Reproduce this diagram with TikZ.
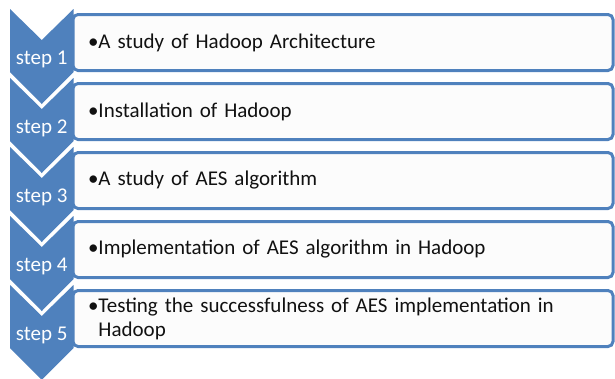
\documentclass[tikz,border=0pt]{standalone}
\usepackage{fontspec}
\setmainfont{Carlito}
\usetikzlibrary{positioning}
\definecolor{StepBlue}{HTML}{4F81BD}
\definecolor{BoxFill}{HTML}{FCFCFC}
\definecolor{Ink}{HTML}{111111}
\tikzset{
 stepbox/.style={draw=StepBlue, line width=3pt, rounded corners=5pt, fill=BoxFill, outer sep=0pt, minimum width=540pt, minimum height=56pt, text width=510pt, inner xsep=15pt, align=left, font=\fontsize{21pt}{24pt}\selectfont, text=Ink},
 steplabel/.style={anchor=base, inner sep=0pt, text=white, font=\fontsize{21pt}{24pt}\selectfont},
 chevron/.pic={\fill[StepBlue] (-63pt,33.5pt) -- (-31.25pt,2.5pt) -- (0.5pt,33.5pt) -- (0.5pt,-29.5pt) -- (-31.25pt,-61.5pt) -- (-63pt,-29.5pt) -- cycle;}
}
\newcommand{\bulletitem}[1]{\textbullet\parbox[t]{498pt}{\raggedright #1}}

\begin{document}
\begin{tikzpicture}[node distance=13pt]
\useasboundingbox (0,0) rectangle (615pt,-378pt);
\node[stepbox] (b1) at (343pt,-42.5pt) {\bulletitem{A study of Hadoop Architecture}};
\node[stepbox,below=of b1] (b2) {\bulletitem{Installation of Hadoop}};
\node[stepbox,below=of b2] (b3) {\bulletitem{A study of AES algorithm}};
\node[stepbox,below=of b3] (b4) {\bulletitem{Implementation of AES algorithm in Hadoop}};
\node[stepbox,below=of b4] (b5) {\bulletitem{Testing the successfulness of AES implementation in Hadoop}};
% chevrons sit over the left edge of each box
\pic at (b1.west) {chevron};
\pic at (b2.west) {chevron};
\pic at (b3.west) {chevron};
\pic at (b4.west) {chevron};
\pic at (b5.west) {chevron};
\node[steplabel] (s1) at ([xshift=-31.25pt,yshift=-21.5pt]b1.west) {step 1};
\node[steplabel] (s2) at ([xshift=-31.25pt,yshift=-21.5pt]b2.west) {step 2};
\node[steplabel] (s3) at ([xshift=-31.25pt,yshift=-21.5pt]b3.west) {step 3};
\node[steplabel] (s4) at ([xshift=-31.25pt,yshift=-21.5pt]b4.west) {step 4};
\node[steplabel] (s5) at ([xshift=-31.25pt,yshift=-21.5pt]b5.west) {step 5};
\end{tikzpicture}
\end{document}
